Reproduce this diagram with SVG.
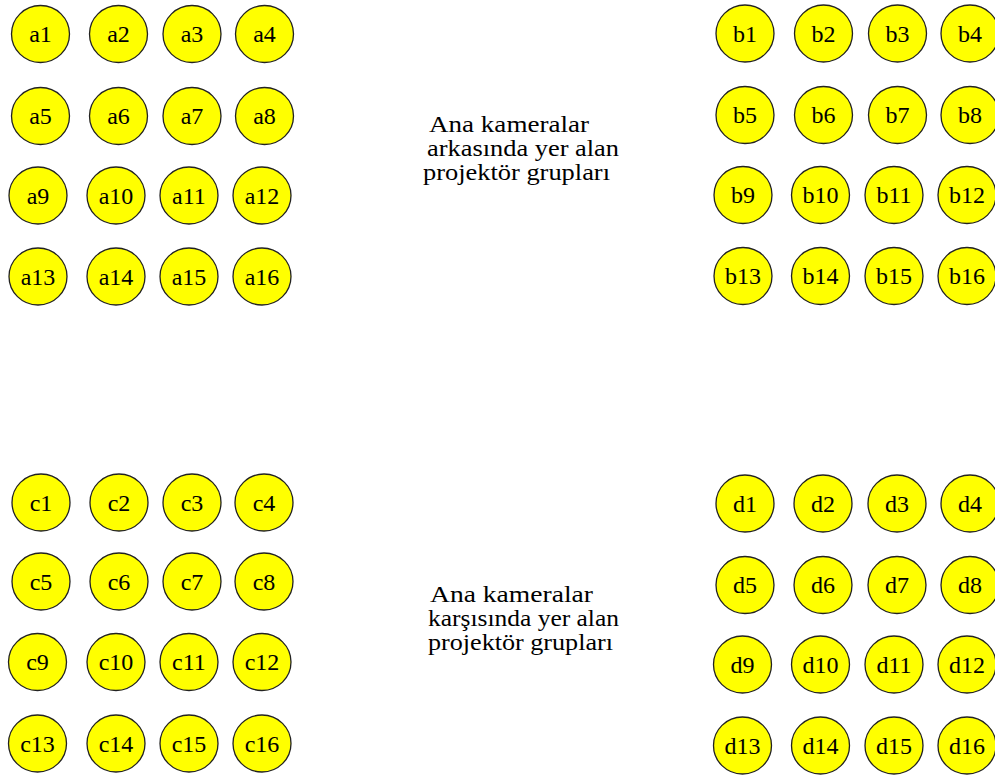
<svg xmlns="http://www.w3.org/2000/svg" width="995" height="776" viewBox="0 0 995 776">
<style>
.n ellipse{fill:#ffff00;stroke:#222;stroke-width:1.3}
.n text{font-family:'Liberation Serif','Times New Roman',serif;font-size:24px;fill:#000;text-anchor:middle}
.cap{font-family:'Liberation Serif','Times New Roman',serif;font-size:24px;fill:#000}
</style>
<rect width="995" height="776" fill="#fff"/>
<g id="connectors"/>
<g id="a1" class="n"><ellipse cx="40.5" cy="34" rx="29" ry="28.5"/><text x="40.5" y="42">a1</text></g>
<g id="a2" class="n"><ellipse cx="118.5" cy="34" rx="29" ry="28.5"/><text x="118.5" y="42">a2</text></g>
<g id="a3" class="n"><ellipse cx="192" cy="34" rx="29" ry="28.5"/><text x="192" y="42">a3</text></g>
<g id="a4" class="n"><ellipse cx="264.5" cy="34" rx="29" ry="28.5"/><text x="264.5" y="42">a4</text></g>
<g id="a5" class="n"><ellipse cx="40.5" cy="116" rx="29" ry="28.5"/><text x="40.5" y="124">a5</text></g>
<g id="a6" class="n"><ellipse cx="118.5" cy="116" rx="29" ry="28.5"/><text x="118.5" y="124">a6</text></g>
<g id="a7" class="n"><ellipse cx="192" cy="116" rx="29" ry="28.5"/><text x="192" y="124">a7</text></g>
<g id="a8" class="n"><ellipse cx="264.5" cy="116" rx="29" ry="28.5"/><text x="264.5" y="124">a8</text></g>
<g id="a9" class="n"><ellipse cx="38" cy="195.5" rx="29" ry="28.5"/><text x="38" y="203.5">a9</text></g>
<g id="a10" class="n"><ellipse cx="116" cy="195.5" rx="29" ry="28.5"/><text x="116" y="203.5">a10</text></g>
<g id="a11" class="n"><ellipse cx="189" cy="195.5" rx="29" ry="28.5"/><text x="189" y="203.5">a11</text></g>
<g id="a12" class="n"><ellipse cx="262" cy="195.5" rx="29" ry="28.5"/><text x="262" y="203.5">a12</text></g>
<g id="a13" class="n"><ellipse cx="38" cy="276.5" rx="29" ry="28.5"/><text x="38" y="284.5">a13</text></g>
<g id="a14" class="n"><ellipse cx="116" cy="276.5" rx="29" ry="28.5"/><text x="116" y="284.5">a14</text></g>
<g id="a15" class="n"><ellipse cx="189" cy="276.5" rx="29" ry="28.5"/><text x="189" y="284.5">a15</text></g>
<g id="a16" class="n"><ellipse cx="262" cy="276.5" rx="29" ry="28.5"/><text x="262" y="284.5">a16</text></g>
<g id="b1" class="n"><ellipse cx="745" cy="33.5" rx="29" ry="28.5"/><text x="745" y="41.5">b1</text></g>
<g id="b2" class="n"><ellipse cx="823.5" cy="33.5" rx="29" ry="28.5"/><text x="823.5" y="41.5">b2</text></g>
<g id="b3" class="n"><ellipse cx="897.5" cy="33.5" rx="29" ry="28.5"/><text x="897.5" y="41.5">b3</text></g>
<g id="b4" class="n"><ellipse cx="970" cy="33.5" rx="29" ry="28.5"/><text x="970" y="41.5">b4</text></g>
<g id="b5" class="n"><ellipse cx="745" cy="115" rx="29" ry="28.5"/><text x="745" y="123">b5</text></g>
<g id="b6" class="n"><ellipse cx="823.5" cy="115" rx="29" ry="28.5"/><text x="823.5" y="123">b6</text></g>
<g id="b7" class="n"><ellipse cx="897.5" cy="115" rx="29" ry="28.5"/><text x="897.5" y="123">b7</text></g>
<g id="b8" class="n"><ellipse cx="970" cy="115" rx="29" ry="28.5"/><text x="970" y="123">b8</text></g>
<g id="b9" class="n"><ellipse cx="743" cy="195" rx="29" ry="28.5"/><text x="743" y="203">b9</text></g>
<g id="b10" class="n"><ellipse cx="820.5" cy="195" rx="29" ry="28.5"/><text x="820.5" y="203">b10</text></g>
<g id="b11" class="n"><ellipse cx="894" cy="195" rx="29" ry="28.5"/><text x="894" y="203">b11</text></g>
<g id="b12" class="n"><ellipse cx="967" cy="195" rx="29" ry="28.5"/><text x="967" y="203">b12</text></g>
<g id="b13" class="n"><ellipse cx="743" cy="276" rx="29" ry="28.5"/><text x="743" y="284">b13</text></g>
<g id="b14" class="n"><ellipse cx="820.5" cy="276" rx="29" ry="28.5"/><text x="820.5" y="284">b14</text></g>
<g id="b15" class="n"><ellipse cx="894" cy="276" rx="29" ry="28.5"/><text x="894" y="284">b15</text></g>
<g id="b16" class="n"><ellipse cx="967" cy="276" rx="29" ry="28.5"/><text x="967" y="284">b16</text></g>
<g id="c1" class="n"><ellipse cx="41" cy="502.5" rx="29" ry="28.5"/><text x="41" y="510.5">c1</text></g>
<g id="c2" class="n"><ellipse cx="119" cy="502.5" rx="29" ry="28.5"/><text x="119" y="510.5">c2</text></g>
<g id="c3" class="n"><ellipse cx="192" cy="502.5" rx="29" ry="28.5"/><text x="192" y="510.5">c3</text></g>
<g id="c4" class="n"><ellipse cx="264" cy="502.5" rx="29" ry="28.5"/><text x="264" y="510.5">c4</text></g>
<g id="c5" class="n"><ellipse cx="41" cy="581.5" rx="29" ry="28.5"/><text x="41" y="589.5">c5</text></g>
<g id="c6" class="n"><ellipse cx="119" cy="581.5" rx="29" ry="28.5"/><text x="119" y="589.5">c6</text></g>
<g id="c7" class="n"><ellipse cx="192" cy="581.5" rx="29" ry="28.5"/><text x="192" y="589.5">c7</text></g>
<g id="c8" class="n"><ellipse cx="264" cy="581.5" rx="29" ry="28.5"/><text x="264" y="589.5">c8</text></g>
<g id="c9" class="n"><ellipse cx="37.5" cy="662" rx="29" ry="28.5"/><text x="37.5" y="670">c9</text></g>
<g id="c10" class="n"><ellipse cx="116" cy="662" rx="29" ry="28.5"/><text x="116" y="670">c10</text></g>
<g id="c11" class="n"><ellipse cx="189" cy="662" rx="29" ry="28.5"/><text x="189" y="670">c11</text></g>
<g id="c12" class="n"><ellipse cx="262" cy="662" rx="29" ry="28.5"/><text x="262" y="670">c12</text></g>
<g id="c13" class="n"><ellipse cx="37.5" cy="743.5" rx="29" ry="28.5"/><text x="37.5" y="751.5">c13</text></g>
<g id="c14" class="n"><ellipse cx="116" cy="743.5" rx="29" ry="28.5"/><text x="116" y="751.5">c14</text></g>
<g id="c15" class="n"><ellipse cx="189" cy="743.5" rx="29" ry="28.5"/><text x="189" y="751.5">c15</text></g>
<g id="c16" class="n"><ellipse cx="262" cy="743.5" rx="29" ry="28.5"/><text x="262" y="751.5">c16</text></g>
<g id="d1" class="n"><ellipse cx="745" cy="503.5" rx="29" ry="28.5"/><text x="745" y="511.5">d1</text></g>
<g id="d2" class="n"><ellipse cx="823" cy="503.5" rx="29" ry="28.5"/><text x="823" y="511.5">d2</text></g>
<g id="d3" class="n"><ellipse cx="897" cy="503.5" rx="29" ry="28.5"/><text x="897" y="511.5">d3</text></g>
<g id="d4" class="n"><ellipse cx="970" cy="503.5" rx="29" ry="28.5"/><text x="970" y="511.5">d4</text></g>
<g id="d5" class="n"><ellipse cx="745" cy="585" rx="29" ry="28.5"/><text x="745" y="593">d5</text></g>
<g id="d6" class="n"><ellipse cx="823" cy="585" rx="29" ry="28.5"/><text x="823" y="593">d6</text></g>
<g id="d7" class="n"><ellipse cx="897" cy="585" rx="29" ry="28.5"/><text x="897" y="593">d7</text></g>
<g id="d8" class="n"><ellipse cx="970" cy="585" rx="29" ry="28.5"/><text x="970" y="593">d8</text></g>
<g id="d9" class="n"><ellipse cx="742.5" cy="664.5" rx="29" ry="28.5"/><text x="742.5" y="672.5">d9</text></g>
<g id="d10" class="n"><ellipse cx="820.5" cy="664.5" rx="29" ry="28.5"/><text x="820.5" y="672.5">d10</text></g>
<g id="d11" class="n"><ellipse cx="894" cy="664.5" rx="29" ry="28.5"/><text x="894" y="672.5">d11</text></g>
<g id="d12" class="n"><ellipse cx="967" cy="664.5" rx="29" ry="28.5"/><text x="967" y="672.5">d12</text></g>
<g id="d13" class="n"><ellipse cx="742.5" cy="745.5" rx="29" ry="28.5"/><text x="742.5" y="753.5">d13</text></g>
<g id="d14" class="n"><ellipse cx="820.5" cy="745.5" rx="29" ry="28.5"/><text x="820.5" y="753.5">d14</text></g>
<g id="d15" class="n"><ellipse cx="894" cy="745.5" rx="29" ry="28.5"/><text x="894" y="753.5">d15</text></g>
<g id="d16" class="n"><ellipse cx="967" cy="745.5" rx="29" ry="28.5"/><text x="967" y="753.5">d16</text></g>
<g id="label-top">
<text class="cap" x="429" y="132" textLength="160" lengthAdjust="spacingAndGlyphs">Ana kameralar</text>
<text class="cap" x="427" y="156" textLength="192" lengthAdjust="spacingAndGlyphs">arkasında yer alan</text>
<text class="cap" x="423" y="180" textLength="187" lengthAdjust="spacingAndGlyphs">projektör grupları</text>
</g>
<g id="label-bottom">
<text class="cap" x="430" y="602" textLength="163" lengthAdjust="spacingAndGlyphs">Ana kameralar</text>
<text class="cap" x="428" y="626" textLength="191" lengthAdjust="spacingAndGlyphs">karşısında yer alan</text>
<text class="cap" x="428" y="650" textLength="185" lengthAdjust="spacingAndGlyphs">projektör grupları</text>
</g>
</svg>
